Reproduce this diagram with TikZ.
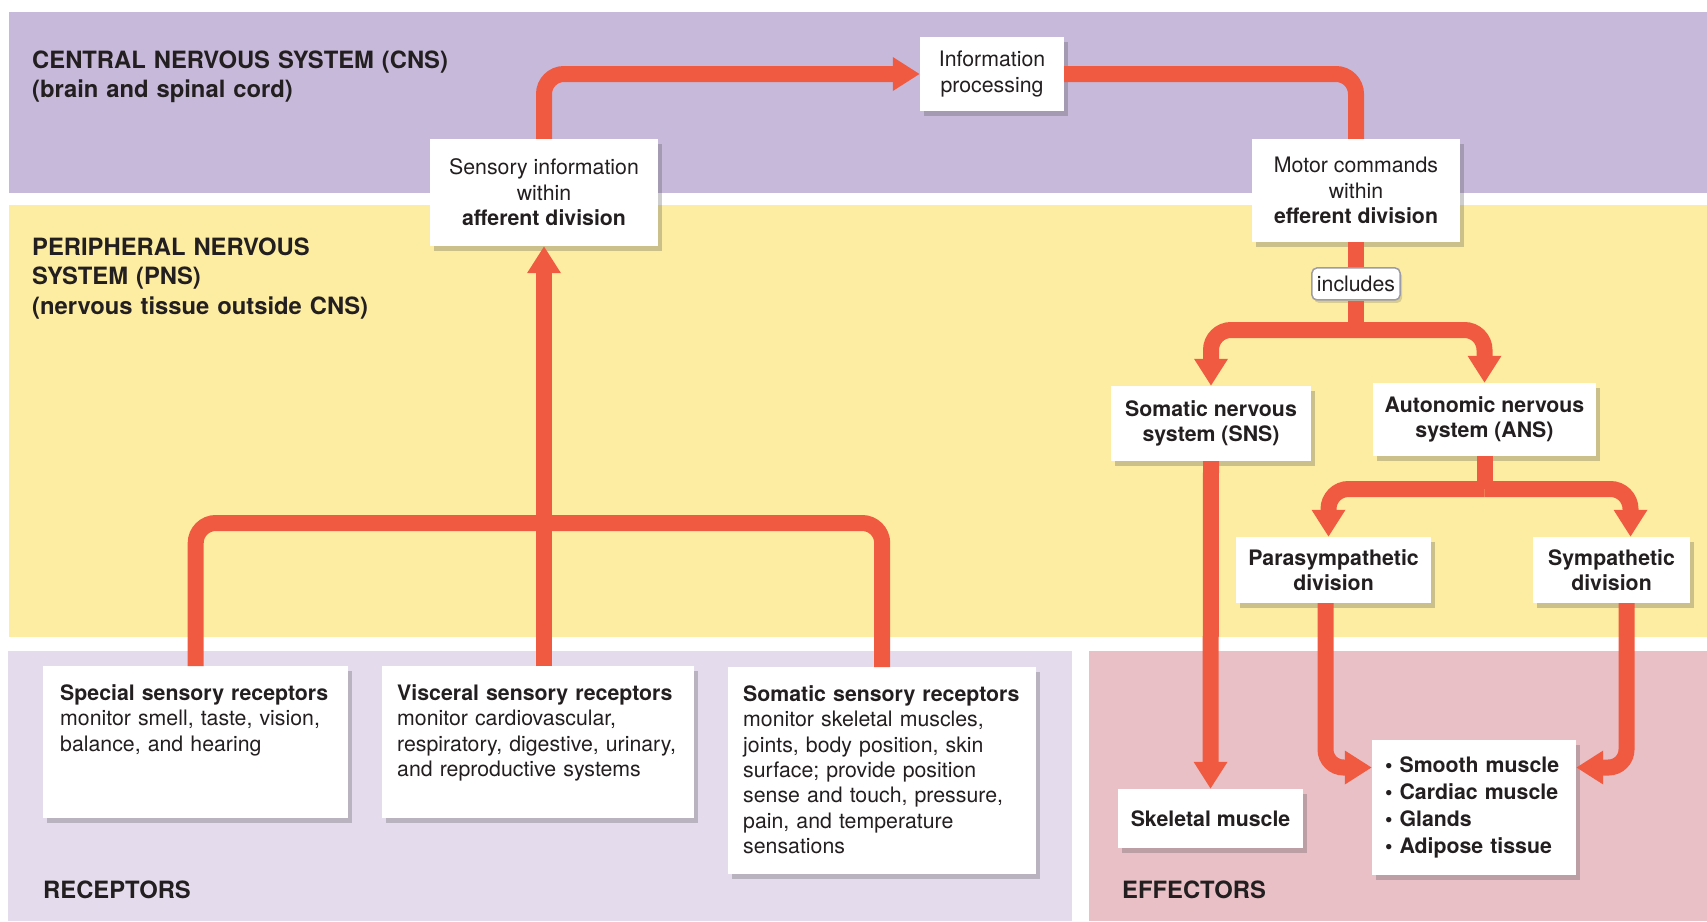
\documentclass[tikz,border=0pt]{standalone}
\usepackage{fontspec}
\setmainfont{TeX Gyre Heros}
\usetikzlibrary{positioning, arrows.meta, shadows, calc}
\definecolor{CnsBand}{HTML}{C7B9DA}
\definecolor{PnsBand}{HTML}{FDEDA2}
\definecolor{RecBand}{HTML}{E4DCEC}
\definecolor{EffBand}{HTML}{E8C0C6}
\definecolor{FlowRed}{HTML}{F05A40}
\definecolor{InkA}{HTML}{231F20}
\definecolor{TagLine}{HTML}{9C9CA8}
\newcommand{\bodyfont}{\fontsize{21.3}{25.4}\selectfont}
\newcommand{\headfont}{\fontsize{23.8}{29.5}\selectfont\bfseries}
\tikzset{
  card/.style={fill=white, text=InkA, font=\bodyfont, align=center, inner sep=4pt,
               drop shadow={shadow xshift=4pt, shadow yshift=-5pt, opacity=0.28, fill=black!70}},
  bcard/.style={card, font=\bodyfont\bfseries},
  recbox/.style={card, anchor=north west, align=left, inner xsep=15pt, inner ysep=18pt,
                 text height=16pt},
  tagbox/.style={draw=TagLine, line width=1.5pt, fill=white, rounded corners=5pt, text=InkA,
                 font=\bodyfont, inner xsep=5pt, inner ysep=3pt, minimum height=32pt,
                 drop shadow={shadow xshift=2pt, shadow yshift=-3pt, opacity=0.2, fill=black!70}},
  zonelbl/.style={anchor=base west, inner sep=0pt, text=InkA, font=\headfont, align=left,
                  text width=520pt},
  trunk/.style={draw=FlowRed, line width=16pt, rounded corners=20pt},
  arr/.style={trunk, -{Triangle[width=32pt, length=27pt]}},
}

\begin{document}
\begin{tikzpicture}[x=1pt, y=-1pt]
  \useasboundingbox (0,0) rectangle (1707,921);
  % zones
  \fill[CnsBand] (9,12) rectangle (1707,193);
  \fill[PnsBand] (9,205) rectangle (1707,637);
  \fill[RecBand] (8,651) rectangle (1072,921);
  \fill[EffBand] (1089,651) rectangle (1707,921);

  \node[zonelbl] (cnslbl) at (32,68) {CENTRAL NERVOUS SYSTEM (CNS)\\(brain and spinal cord)};
  \node[zonelbl] (pnslbl) at (32,255) {PERIPHERAL NERVOUS\\SYSTEM (PNS)\\(nervous tissue outside CNS)};
  \node[zonelbl] (reclbl) at (43,898) {RECEPTORS};
  \node[zonelbl] (efflbl) at (1122,898) {EFFECTORS};

  \node[card, minimum width=228pt, minimum height=107pt] (sens) at (544,192.5)
       {Sensory information\\within\\\textbf{afferent division}};
  \node[card, minimum width=144pt, minimum height=74pt] (info) at (992,74)
       {Information\\processing};
  \node[card, minimum width=208pt, minimum height=103pt] (motor) at (1356,190.5)
       {Motor commands\\within\\\textbf{efferent division}};
  \node[tagbox, below=25pt of motor] (incl) {includes};

  \node[bcard, minimum width=200pt, minimum height=75pt] (sns) at (1211,423.5)
       {Somatic nervous\\system (SNS)};
  \node[bcard, minimum width=223pt, minimum height=73pt] (ans) at (1484.5,419.5)
       {Autonomic nervous\\system (ANS)};
  \node[bcard, minimum width=195pt, minimum height=66pt] (para) at (1333.5,570)
       {Parasympathetic\\division};
  \node[bcard, minimum width=157pt, minimum height=66pt] (symp) at (1611.5,570)
       {Sympathetic\\division};
  \node[bcard, minimum width=185pt, minimum height=59pt] (skel) at (1210.5,818.5)
       {Skeletal muscle};
  \node[bcard, minimum width=204pt, minimum height=135pt, align=left, text width=178pt,
        font=\fontsize{21.3}{27}\selectfont\bfseries] (targets) at (1474,807.5)
       {\textbullet\ Smooth muscle\\\textbullet\ Cardiac muscle\\\textbullet\ Glands\\\textbullet\ Adipose tissue};

  \node[recbox, inner xsep=17pt, text width=271pt, text depth=100pt] (spec) at (43,666)
       {\textbf{Special sensory receptors}\\monitor smell, taste, vision,\\balance, and hearing};
  \node[recbox, text width=282pt, text depth=100pt] (visc) at (382,666)
       {\textbf{Visceral sensory receptors}\\monitor cardiovascular,\\respiratory, digestive, urinary,\\and reproductive systems};
  \node[recbox, text width=278pt, text depth=155pt] (soma) at (728,667)
       {\textbf{Somatic sensory receptors}\\monitor skeletal muscles,\\joints, body position, skin\\surface; provide position\\sense and touch, pressure,\\pain, and temperature\\sensations};

  % afferent side
  \coordinate (recjoin) at (sens.south |- 0,523);
  \draw[trunk] (spec.north) |- (recjoin) -| (soma.north);
  \draw[arr] (sens.south |- visc.north) -- (sens.south);
  \draw[arr] (sens.north) |- (info.west);
  \draw[trunk] (info.east) -| (motor.north);

  % efferent side
  \draw[trunk] (motor.south) -- (incl.north);
  \coordinate (effsplit) at (incl.south |- 0,330);
  \draw[trunk] (incl.south) -- (effsplit);
  \draw[arr] (effsplit) -| (sns.north);
  \draw[arr] (effsplit) -| (ans.north);
  \coordinate (anssplit) at (ans.south |- 0,489);
  \draw[trunk] (ans.south) -- (anssplit);
  \draw[arr] (anssplit) -| ([xshift=-5pt]para.north);
  \draw[arr] (anssplit) -| ([xshift=19pt]symp.north);
  \draw[arr] (sns.south) -- (skel.north);
  \draw[arr, rounded corners=18pt] ([xshift=-8pt]para.south) |- ([yshift=40pt]targets.west);
  \draw[arr, rounded corners=18pt] ([xshift=15pt]symp.south) |- ([yshift=40pt]targets.east);
\end{tikzpicture}
\end{document}
